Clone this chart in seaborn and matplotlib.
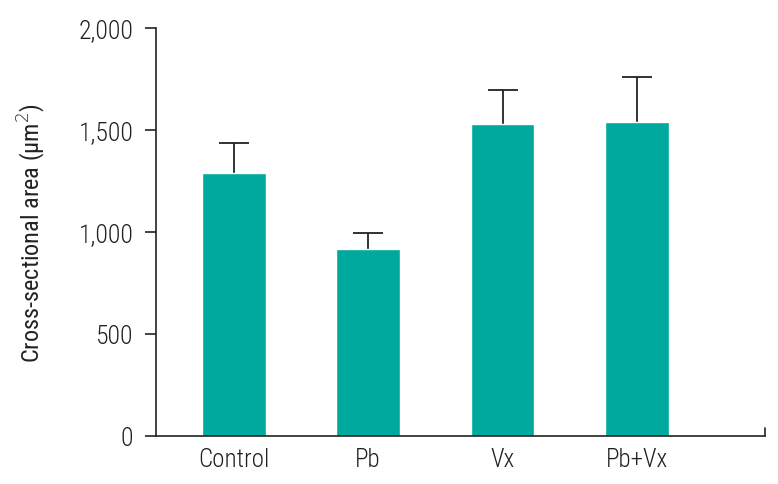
import matplotlib
matplotlib.use("Agg")
import matplotlib.pyplot as plt
import matplotlib.ticker as mticker
import seaborn as sns
import pandas as pd
from matplotlib import font_manager

groups = ["Control", "Pb", "Vx", "Pb+Vx"]
means = [1287, 914, 1528, 1538]
errors = [148, 79, 167, 221]
yticks = [0, 500, 1000, 1500, 2000]

sns.set_theme(style="ticks")
names = {f.name for f in font_manager.fontManager.ttflist}
fam = None
for cand in ["Roboto Condensed", "Liberation Sans Narrow", "Open Sans Condensed", "Noto Sans Condensed"]:
    if cand in names:
        fam = cand
        break
if fam is None:
    fam = "DejaVu Sans"
    plt.rcParams["font.stretch"] = "condensed"
plt.rcParams["font.family"] = [fam, "DejaVu Sans"]
plt.rcParams["font.weight"] = "light"

df = pd.DataFrame({"group": groups, "mean": means, "err": errors})

fig, ax = plt.subplots(figsize=(7.78, 4.85), dpi=100)
fig.subplots_adjust(left=0.2, right=0.983, bottom=0.1, top=0.94)

sns.barplot(data=df, x="group", y="mean", order=groups, color="#00A99D",
            saturation=1, width=0.475, errorbar=None, ax=ax, zorder=2)
eb = ax.errorbar(x=range(len(groups)), y=df["mean"], yerr=[[0]*len(groups), df["err"]],
                 fmt="none", ecolor="#222222", elinewidth=1.3, capsize=11, capthick=1.3, zorder=1)
eb[1][0].set_visible(False)

ax.set_ylim(0, 2000)
ax.set_xlim(-0.58, 3.95)
ax.set_yticks(yticks)
ax.yaxis.set_major_formatter(mticker.FuncFormatter(lambda v, p: f"{int(v):,}"))
ax.set_xlabel("")
ax.set_ylabel("Cross-sectional area (μm$^2$)", fontsize=17.5, color="#222222", labelpad=22)
ax.tick_params(axis="y", labelsize=18.5, length=8, width=1.2, colors="#222222", pad=8)
ax.tick_params(axis="x", labelsize=18, length=0, colors="#222222", pad=8)
for s in ["top", "right"]:
    ax.spines[s].set_visible(False)
for s in ["left", "bottom"]:
    ax.spines[s].set_linewidth(1.2)
    ax.spines[s].set_color("#222222")
ax.plot([1, 1], [0, 0.018], transform=ax.transAxes, color="#222222", lw=1.2, clip_on=False)

fig.savefig("out.png", dpi=100)
